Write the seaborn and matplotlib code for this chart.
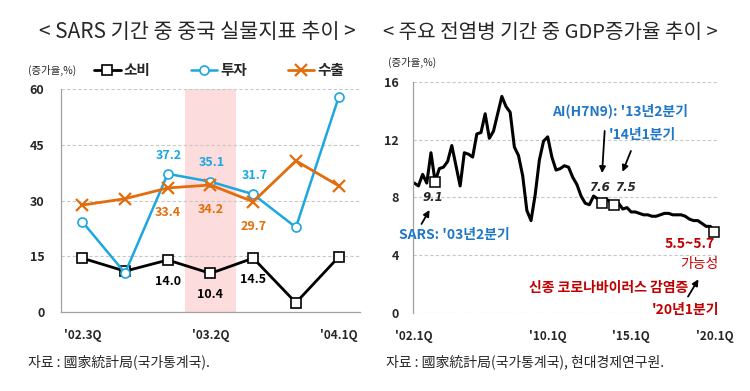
import matplotlib
matplotlib.use("Agg")
import matplotlib.pyplot as plt
import numpy as np
import pandas as pd
import seaborn as sns

# left panel: China real indicators during SARS (growth, %)
quarters = ["'02.3Q", "'02.4Q", "'03.1Q", "'03.2Q", "'03.3Q", "'03.4Q", "'04.1Q"]
consumption = [14.5, 11.0, 14.0, 10.4, 14.5, 2.5, 14.8]
investment = [24.3, 10.5, 37.2, 35.1, 31.7, 22.8, 57.8]
exports = [28.8, 30.5, 33.4, 34.2, 29.7, 40.7, 34.0]
labeled_idx = [2, 3, 4]
sars_quarter = 3

# right panel: China quarterly GDP growth 2002.1Q - 2020.1Q
gdp = [9.0, 8.8, 9.6, 9.0,
       11.1, 9.1, 10.0, 10.1,
       10.5, 11.6, 10.2, 8.8,
       11.1, 11.0, 10.8, 12.4,
       12.5, 13.8, 12.1, 12.6,
       13.8, 15.0, 14.3, 13.9,
       11.5, 10.9, 9.5, 7.1,
       6.4, 8.2, 10.6, 11.9,
       12.2, 10.8, 9.9, 10.0,
       10.2, 10.1, 9.4, 8.9,
       8.1, 7.6, 7.5, 8.1,
       7.9, 7.6, 7.9, 7.7,
       7.5, 7.6, 7.2, 7.3,
       7.0, 7.0, 6.9, 6.8,
       6.8, 6.7, 6.7, 6.8,
       6.9, 6.9, 6.8, 6.8,
       6.8, 6.7, 6.5, 6.4,
       6.4, 6.2, 6.0, 6.0,
       5.6]
gdp_ticks = [0, 32, 52, 72]
gdp_ticklabels = ["'02.1Q", "'10.1Q", "'15.1Q", "'20.1Q"]
marked_idx = [5, 45, 48, 72]

sns.set_theme(style="white")
plt.rcParams['font.family'] = ['Noto Sans CJK KR', 'DejaVu Sans']
plt.rcParams['axes.unicode_minus'] = False

black = "#000000"
blue = "#1CA7E0"
orange = "#E46C0A"
textblue = "#1F77C8"
red = "#C00000"
grid_c = "#C8C8C8"
spine_c = "#A0A0A0"

fig = plt.figure(figsize=(7.5, 3.91), dpi=100)
ax1 = fig.add_axes([0.0813, 0.202, 0.3987, 0.570])
ax2 = fig.add_axes([0.5507, 0.1995, 0.4053, 0.5908])

# ---- left chart
xs = np.arange(len(quarters))
ax1.axvspan(sars_quarter - 0.6, sars_quarter + 0.6, color="#FCDCDC", zorder=0, lw=0)
sns.lineplot(x=xs, y=consumption, ax=ax1, color=black, lw=2, marker="s", ms=7,
             markerfacecolor="white", markeredgecolor=black, markeredgewidth=1.2, label="소비")
sns.lineplot(x=xs, y=investment, ax=ax1, color=blue, lw=1.8, marker="o", ms=6.5,
             markerfacecolor="white", markeredgecolor=blue, markeredgewidth=1.2, label="투자")
sns.lineplot(x=xs, y=exports, ax=ax1, color=orange, lw=2, marker="x", ms=9,
             markeredgecolor=orange, markeredgewidth=1.6, label="수출")

for i in labeled_idx:
    ax1.annotate(f"{investment[i]:.1f}", (xs[i], investment[i]), xytext=(1, 13.5),
                 textcoords="offset points", ha="center", va="center",
                 color=blue, fontsize=9, fontweight="bold")
    ax1.annotate(f"{exports[i]:.1f}", (xs[i], exports[i]), xytext=(0, -18),
                 textcoords="offset points", ha="center", va="center",
                 color=orange, fontsize=9, fontweight="bold")
    ax1.annotate(f"{consumption[i]:.1f}", (xs[i], consumption[i]), xytext=(0, -15.5),
                 textcoords="offset points", ha="center", va="center",
                 color=black, fontsize=9, fontweight="bold")

ax1.set_xlim(-0.5, len(quarters) - 0.5)
ax1.set_ylim(0, 60)
ax1.set_yticks([0, 15, 30, 45, 60])
ax1.set_xticks([0, 3, 6])
ax1.set_xticklabels([quarters[0], quarters[3], quarters[6]])
ax1.set_xticks(np.arange(-0.5, len(quarters)), minor=True)
ax1.tick_params(axis="x", which="major", length=0, pad=12, labelsize=8.5)
ax1.tick_params(axis="x", which="minor", length=4, color=spine_c, width=0.8, direction="out")
ax1.tick_params(axis="y", length=3, color=spine_c, pad=9, labelsize=9, direction="out")
ax1.yaxis.grid(True, ls=(0, (3, 2)), color=grid_c, lw=0.8)
for lab in ax1.get_xticklabels() + ax1.get_yticklabels():
    lab.set_fontweight("bold")
for s in ["top", "right"]:
    ax1.spines[s].set_visible(False)
for s in ["left", "bottom"]:
    ax1.spines[s].set_color(spine_c)
    ax1.spines[s].set_linewidth(0.9)
ax1.set_xlabel("")
ax1.set_ylabel("")
ax1.legend(loc="center", bbox_to_anchor=(0.292, 0.821), bbox_transform=fig.transFigure,
           ncol=3, frameon=False, handlelength=1.8, handletextpad=0.2, columnspacing=2.8,
           prop={"weight": "bold", "size": 10.5})

# ---- right chart
qi = np.arange(len(gdp))
sns.lineplot(x=qi, y=gdp, ax=ax2, color=black, lw=2.2)
ax2.plot(qi[marked_idx], [gdp[i] for i in marked_idx], ls="none", marker="s", ms=7,
         markerfacecolor="white", markeredgecolor=black, markeredgewidth=1.1, zorder=5,
         clip_on=False)

ax2.set_xlim(-0.3, 72.6)
ax2.set_ylim(0, 16)
ax2.set_yticks([0, 4, 8, 12, 16])
ax2.set_xticks(gdp_ticks)
ax2.set_xticklabels(gdp_ticklabels)
ax2.tick_params(axis="x", length=0, pad=12, labelsize=8.5)
ax2.tick_params(axis="y", length=4, color=spine_c, pad=6, labelsize=9, direction="out")
ax2.yaxis.grid(True, ls=(0, (3, 2)), color=grid_c, lw=0.8)
ax2.set_axisbelow(True)
for lab in ax2.get_xticklabels() + ax2.get_yticklabels():
    lab.set_fontweight("bold")
for s in ["top", "right", "bottom"]:
    ax2.spines[s].set_visible(False)
ax2.spines["left"].set_color(spine_c)
ax2.spines["left"].set_linewidth(0.9)

num_font = dict(fontsize=8.5, fontweight="bold", style="italic", family="DejaVu Sans")
arrow = dict(arrowstyle="-|>", color=black, lw=1.3, mutation_scale=9)
ax2.text(4.5, 8.0, "9.1", ha="center", va="center", **num_font)
ax2.annotate("", xy=(4.0, 7.3), xytext=(1.4, 6.0), arrowprops=arrow)
ax2.text(9.5, 5.4, "SARS: '03년2분기", ha="center", va="center", fontsize=10,
         fontweight="bold", color=textblue)
ax2.text(49.3, 14.0, "AI(H7N9): '13년2분기", ha="center", va="center", fontsize=10,
         fontweight="bold", color=textblue)
ax2.text(54.6, 12.3, "'14년1분기", ha="center", va="center", fontsize=10,
         fontweight="bold", color=textblue)
ax2.annotate("", xy=(45.0, 9.5), xytext=(45.7, 12.8), arrowprops=arrow)
ax2.annotate("", xy=(49.7, 9.6), xytext=(52.2, 11.4), arrowprops=arrow)
ax2.text(44.4, 8.66, "7.6", ha="center", va="center", **num_font)
ax2.text(50.6, 8.66, "7.5", ha="center", va="center", **num_font)
ax2.text(66.1, 4.78, "5.5~5.7", ha="center", va="center", fontsize=10, fontweight="bold", color=red)
ax2.text(68.3, 3.4, "가능성", ha="center", va="center", fontsize=10, color=red)
ax2.text(46.7, 1.73, "신종 코로나바이러스 감염증", ha="center", va="center", fontsize=10,
         fontweight="bold", color=red)
ax2.annotate("", xy=(68.5, 2.5), xytext=(65.3, 0.97), arrowprops=arrow)
ax2.text(65.0, 0.2, "'20년1분기", ha="center", va="center", fontsize=10,
         fontweight="bold", color=red)

# ---- titles, units, sources
fig.text(0.263, 0.918, "< SARS 기간 중 중국 실물지표 추이 >", ha="center", va="center", fontsize=15)
fig.text(0.734, 0.918, "< 주요 전염병 기간 중 GDP증가율 추이 >", ha="center", va="center", fontsize=14.5)
fig.text(28 / 750, 0.821, "(증가율,%)", ha="left", va="center", fontsize=7.5)
fig.text(388 / 750, 0.841, "(증가율,%)", ha="left", va="center", fontsize=7.5)
fig.text(28 / 750, 0.074, "자료 : 國家統計局(국가통계국).", ha="left", va="center", fontsize=10)
fig.text(386 / 750, 0.074, "자료 : 國家統計局(국가통계국), 현대경제연구원.", ha="left", va="center", fontsize=10)

fig.savefig("out.png", dpi=100)
